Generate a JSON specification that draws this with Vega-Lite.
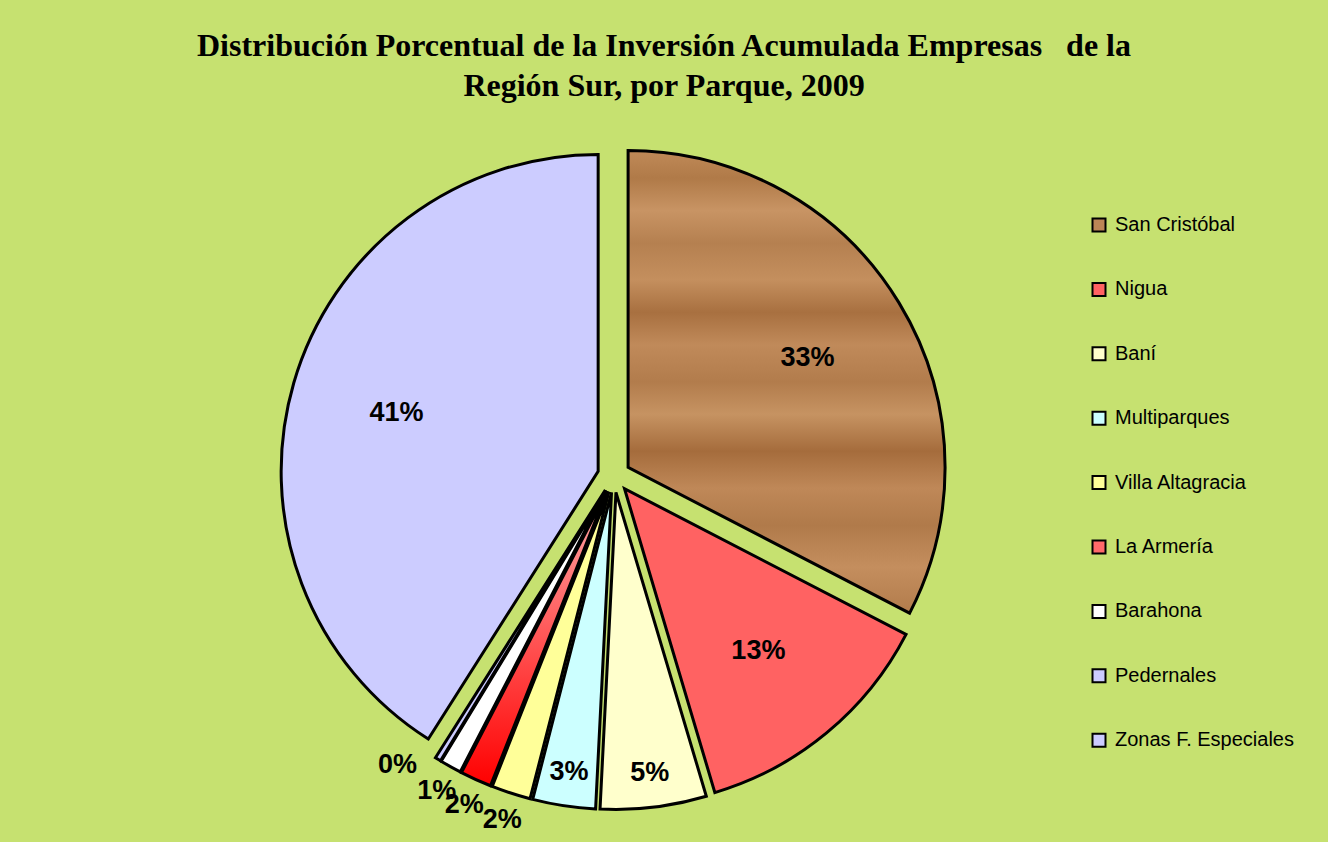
{
  "$schema": "https://vega.github.io/schema/vega-lite/v6.json",
  "width": 1212,
  "height": 730,
  "padding": {"left": 8, "top": 30, "right": 40, "bottom": 0},
  "background": "#c6e170",
  "title": {
    "text": ["Distribución Porcentual de la Inversión Acumulada Empresas\u00a0\u00a0 de la", "Región Sur, por Parque, 2009"],
    "font": "Liberation Serif",
    "fontSize": 32,
    "fontWeight": "bold",
    "color": "black",
    "lineHeight": 40,
    "anchor": "middle",
    "dx": 50,
    "offset": 8
  },
  "config": {"view": {"stroke": null}},
  "data": {
    "values": [
      {"n": 1, "parque": "San Cristóbal", "pct": 0.326},
      {"n": 2, "parque": "Nigua", "pct": 0.128},
      {"n": 3, "parque": "Baní", "pct": 0.054},
      {"n": 4, "parque": "Multiparques", "pct": 0.032},
      {"n": 5, "parque": "Villa Altagracia", "pct": 0.020},
      {"n": 6, "parque": "La Armería", "pct": 0.016},
      {"n": 7, "parque": "Barahona", "pct": 0.011},
      {"n": 8, "parque": "Pedernales", "pct": 0.003},
      {"n": 9, "parque": "Zonas F. Especiales", "pct": 0.410}
    ]
  },
  "encoding": {
    "theta": {"field": "pct", "type": "quantitative", "stack": true},
    "order": {"field": "n", "type": "quantitative"}
  },
  "layer": [
    {
      "mark": {
        "type": "arc",
        "outerRadius": 317,
        "stroke": "black",
        "strokeWidth": 3,
        "strokeJoin": "miter",
        "xOffset": {"expr": "16.5*sin(PI*(datum.pct_start+datum.pct_end))"},
        "yOffset": {"expr": "-16.5*cos(PI*(datum.pct_start+datum.pct_end))"}
      },
      "encoding": {
        "color": {
          "field": "parque",
          "type": "nominal",
          "scale": {
            "domain": ["San Cristóbal", "Nigua", "Baní", "Multiparques", "Villa Altagracia", "La Armería", "Barahona", "Pedernales", "Zonas F. Especiales"],
            "range": ["#bc8656", "#ff6262", "#ffffcc", "#ccffff", "#ffff99", "#ff6a6a", "#ffffff", "#ccccff", "#ccccff"]
          },
          "legend": {
            "orient": "none",
            "legendX": 1081,
            "legendY": 104,
            "title": null,
            "symbolType": "square",
            "symbolSize": 169,
            "symbolStrokeColor": "black",
            "symbolStrokeWidth": 2,
            "labelFont": "Liberation Sans",
            "labelFontSize": 20,
            "labelColor": "black",
            "rowPadding": 42.4,
            "labelOffset": 6,
            "padding": 0,
            "labelLimit": 300
          },
          "condition": [
            {
              "test": "datum.parque === 'San Cristóbal'",
              "value": {
                "gradient": "linear", "x1": 0, "y1": 0, "x2": 0, "y2": 1,
                "stops": [
                  {"offset": 0, "color": "#c08a58"},
                  {"offset": 0.06, "color": "#b07a48"},
                  {"offset": 0.13, "color": "#c89464"},
                  {"offset": 0.2, "color": "#b58050"},
                  {"offset": 0.28, "color": "#c48f5e"},
                  {"offset": 0.35, "color": "#a87040"},
                  {"offset": 0.42, "color": "#c08a5a"},
                  {"offset": 0.5, "color": "#b27c4c"},
                  {"offset": 0.57, "color": "#c69362"},
                  {"offset": 0.65, "color": "#a56c3c"},
                  {"offset": 0.73, "color": "#bf8858"},
                  {"offset": 0.81, "color": "#b07a4a"},
                  {"offset": 0.9, "color": "#c48e5e"},
                  {"offset": 1, "color": "#b27c4c"}
                ]
              }
            },
            {
              "test": "datum.parque === 'La Armería'",
              "value": {
                "gradient": "linear", "x1": 0, "y1": 0, "x2": 0, "y2": 1,
                "stops": [
                  {"offset": 0, "color": "#ffaaaa"},
                  {"offset": 1, "color": "#ff0000"}
                ]
              }
            }
          ]
        }
      }
    },
    {
      "mark": {
        "type": "text",
        "radius": {"expr": "datum.pct > 0.1 ? 210 : 283"},
        "font": "Liberation Sans",
        "fontSize": 27,
        "fontWeight": "bold",
        "color": "black",
        "xOffset": {"expr": "16.5*sin(PI*(datum.pct_start+datum.pct_end))"},
        "yOffset": {"expr": "-16.5*cos(PI*(datum.pct_start+datum.pct_end))"}
      },
      "encoding": {
        "text": {"condition": {"test": "datum.pct >= 0.025", "field": "pct", "format": ".0%"}, "value": ""}
      }
    },
    {
      "mark": {
        "type": "text",
        "radius": 345,
        "thetaOffset": {"expr": "datum.pct < 0.005 ? 0.09 : 0"},
        "font": "Liberation Sans",
        "fontSize": 27,
        "fontWeight": "bold",
        "color": "black",
        "xOffset": {"expr": "16.5*sin(PI*(datum.pct_start+datum.pct_end))"},
        "yOffset": {"expr": "-16.5*cos(PI*(datum.pct_start+datum.pct_end))"}
      },
      "encoding": {
        "text": {"condition": {"test": "datum.pct < 0.025", "field": "pct", "format": ".0%"}, "value": ""}
      }
    }
  ]
}
